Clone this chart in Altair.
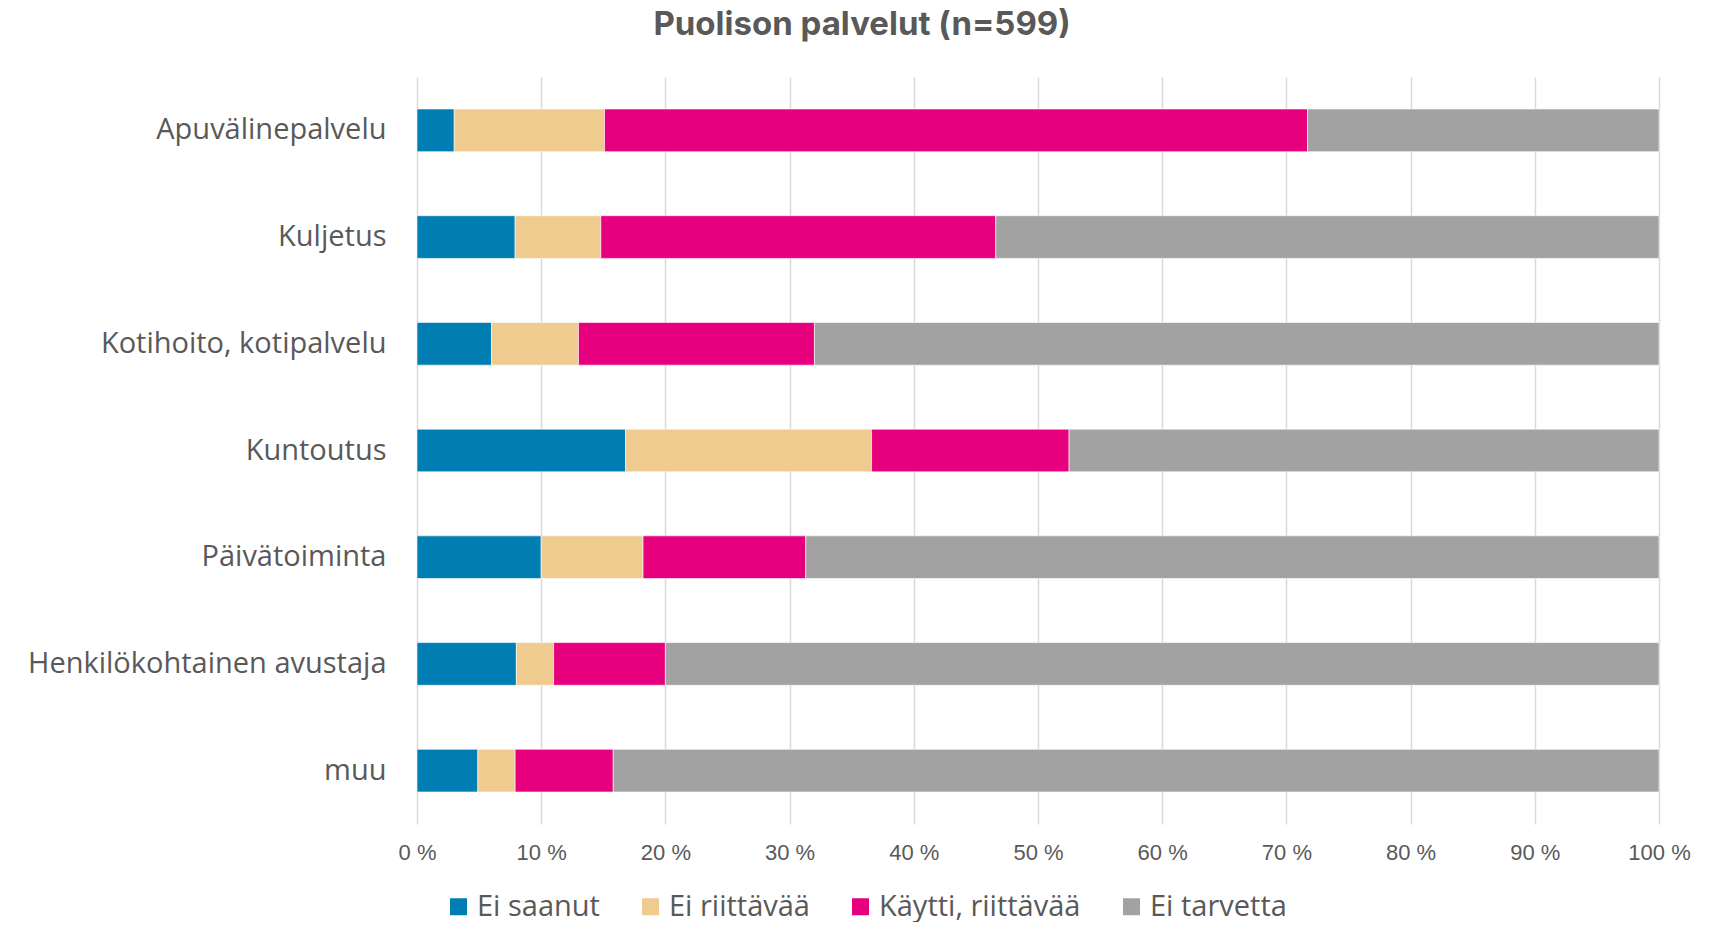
import altair as alt
import pandas as pd

categories = ["Apuvälinepalvelu", "Kuljetus", "Kotihoito, kotipalvelu", "Kuntoutus",
              "Päivätoiminta", "Henkilökohtainen avustaja", "muu"]
series_names = ["Ei saanut", "Ei riittävää", "Käytti, riittävää", "Ei tarvetta"]
ei_saanut = [3.0, 7.9, 6.0, 16.8, 10.0, 8.0, 4.9]
ei_riittava = [12.1, 6.9, 7.0, 19.8, 8.2, 3.0, 3.0]
kaytti_riittava = [56.6, 31.8, 19.0, 15.9, 13.1, 9.0, 7.9]
ei_tarvetta = [28.3, 53.4, 68.0, 47.5, 68.7, 80.0, 84.2]
colors = ["#007DB3", "#EFCB8F", "#E6007E", "#A2A2A2"]
x_ticks = [0, 10, 20, 30, 40, 50, 60, 70, 80, 90, 100]

rows = []
for i, cat in enumerate(categories):
    for j, (name, vals) in enumerate(zip(series_names,
                                         [ei_saanut, ei_riittava, kaytti_riittava, ei_tarvetta])):
        rows.append({"Palvelu": cat, "Vastaus": name, "Osuus": vals[i], "order": j})
df = pd.DataFrame(rows)

label_font = "Open Sans"
tick_font = "Liberation Sans"

chart = alt.Chart(df).mark_bar(stroke="white", strokeWidth=0.6).encode(
    y=alt.Y("Palvelu:N", sort=categories, title=None,
            scale=alt.Scale(paddingInner=0.6, paddingOuter=0.3),
            axis=alt.Axis(labelFontSize=29, labelColor="#595959", labelFont=label_font,
                          labelPadding=31, ticks=False, domain=False,
                          minExtent=409, maxExtent=409, labelLimit=405)),
    x=alt.X("Osuus:Q", stack="zero", title=None,
            scale=alt.Scale(domain=[0, 100], nice=False),
            axis=alt.Axis(values=x_ticks, labelExpr="datum.value + ' %'",
                          labelFontSize=22, labelColor="#595959", labelFont=tick_font,
                          labelPadding=18, labelFlush=False, ticks=False, domain=False,
                          grid=True, gridColor="#D9D9D9", gridWidth=1.5)),
    color=alt.Color("Vastaus:N", sort=series_names,
                    scale=alt.Scale(domain=series_names, range=colors),
                    legend=alt.Legend(title=None, orient="none", direction="horizontal",
                                      legendX=27, legendY=815,
                                      labelFontSize=29, labelColor="#595959",
                                      labelFont=label_font, labelLimit=400,
                                      symbolType="square",
                                      symbolSize=289, symbolStrokeWidth=0,
                                      columnPadding=36, labelOffset=4)),
    order=alt.Order("order:Q", sort="ascending"),
).properties(
    width=1242,
    height=747,
    padding={"left": 0, "top": 1, "right": 5, "bottom": 0},
    title=alt.TitleParams("Puolison palvelut (n=599)", fontSize=33, fontWeight="bold",
                          color="#595959", font="Inter", anchor="middle", frame="bounds",
                          offset=35, dx=13),
).configure_view(stroke=None).configure_axisY(grid=False)

chart.save("out.html", embed_options={"renderer": "svg", "actions": False})
